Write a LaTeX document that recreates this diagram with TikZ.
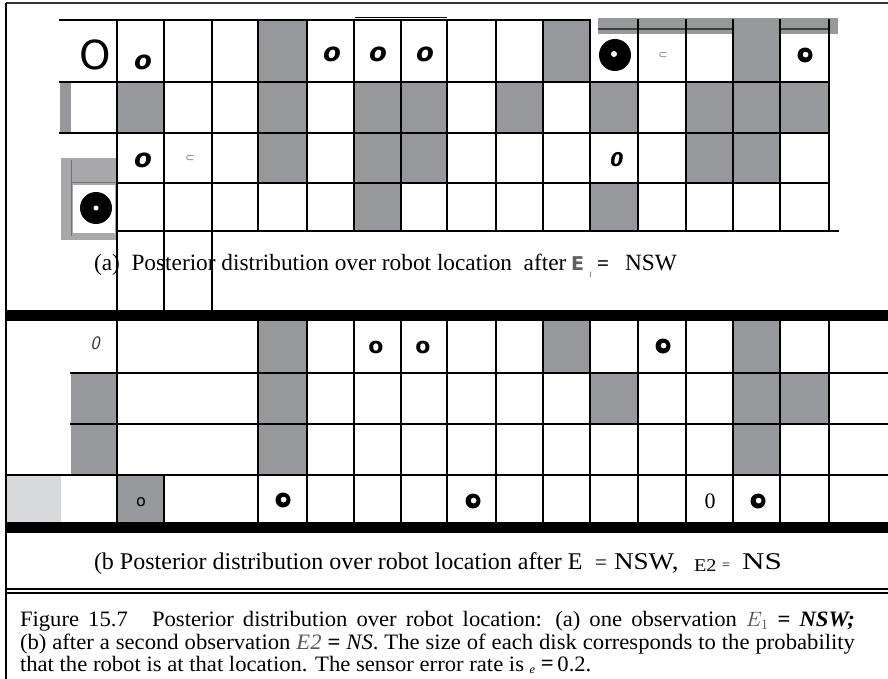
\documentclass[tikz,border=0pt]{standalone}
\usepackage{fontspec}
\usepackage{graphicx}
\setmainfont{Liberation Serif}
\newfontfamily\djs{DejaVu Sans}
\newfontfamily\capfont[FakeStretch=1.03]{Liberation Serif}
\definecolor{cellgray}{RGB}{150,152,156}
\definecolor{lightcell}{RGB}{216,217,219}
\definecolor{photogray}{RGB}{168,168,170}
\definecolor{glyphgray}{RGB}{120,120,120}
\definecolor{egray}{RGB}{95,95,95}
\tikzset{
  gl/.style={line width=1.4pt, line cap=rect},
  gcell/.style={fill=cellgray},
  txt/.style={inner sep=0pt, outer sep=0pt},
  capline/.style={inner sep=0pt, outer sep=0pt, anchor=base west},
  bitalo/.style={txt, font=\djs\bfseries\itshape\fontsize{26}{26}\selectfont},
  boldo/.style={txt, font=\djs\bfseries\fontsize{22}{22}\selectfont},
  smallc/.style={txt, text=glyphgray, font=\djs\fontsize{11}{11}\selectfont},
  subcap/.style={capline, font=\fontsize{23.3}{24}\selectfont},
  subcapb/.style={capline, font=\fontsize{24}{25}\selectfont},
  figcap/.style={capline, font=\capfont\fontsize{22}{23}\selectfont},
}
\newcommand{\ringat}[2]{\fill[black,even odd rule] (#1,#2) circle[radius=7.5] (#1+0.6,#2-0.4) circle[radius=3];}
\begin{document}
\begin{tikzpicture}[x=1pt,y=-1pt]
\useasboundingbox (0,0) rectangle (888,679);
\fill[white] (0,0) rectangle (888,679);

% ---------- panel (a) fills ----------
\fill[gcell] (258,20) rectangle (307,82);
\fill[gcell] (543,20) rectangle (590,82);
\fill[gcell] (733,20) rectangle (780,82);
\fill[gcell] (60,82) rectangle (71,133);
\fill[gcell] (117,82) rectangle (164,133);
\fill[gcell] (258,82) rectangle (307,133);
\fill[gcell] (354,82) rectangle (447,133);
\fill[gcell] (496,82) rectangle (543,133);
\fill[gcell] (590,82) rectangle (638,133);
\fill[gcell] (686,82) rectangle (829,133);
\fill[gcell] (258,133) rectangle (307,183);
\fill[gcell] (354,133) rectangle (447,183);
\fill[gcell] (686,133) rectangle (780,183);
\fill[gcell] (354,183) rectangle (401,231);
\fill[gcell] (590,183) rectangle (638,231);

% top-right scan band
\fill[cellgray] (598,18) rectangle (838,34);
\draw[line width=1.2pt, black!75] (598,29) -- (733,29) (780,29) -- (829,29);
% large disk patch (row 1)
\fill[white] (598,35) rectangle (632,72);
\fill[black] (615,55) circle[radius=16];
\fill[white] (614,54) circle[radius=3];
% photo patch (row 4, left)
\fill[photogray] (61,158) rectangle (117,240);
\draw[line width=1pt, black!55] (71,160) -- (71,236) (71,183) -- (117,183);
\fill[white] (73,185) rectangle (115,233);
\fill[black] (96,208) circle[radius=16];
\fill[white] (96,208) circle[radius=2.5];

% ---------- panel (a) grid lines ----------
\foreach \x in {258,307,354,401,447,496,543,590,638,686,733,780,829}
  \draw[gl] (\x,20) -- (\x,231);
\foreach \x in {117,164,212}
  \draw[gl] (\x,20) -- (\x,310);
\draw[gl] (60,20) -- (590,20);
\draw[gl] (60,82) -- (829,82);
\draw[gl] (60,133) -- (829,133);
\draw[gl] (117,183) -- (829,183);
\draw[gl] (117,231) -- (838,231);
\draw[line width=0.8pt] (355,17) -- (447,17);

% ---------- panel (a) marks ----------
\node[txt, font=\djs\fontsize{40}{40}\selectfont] (aO) at (95,55) {O};
\node[bitalo] (a1) at (143,62) {o};
\node[bitalo] (a2) at (332,54) {o};
\node[bitalo] (a3) at (378,54) {o};
\node[bitalo] (a4) at (425,54) {o};
\node[bitalo] (a5) at (143,160) {o};
\node[txt, font=\djs\bfseries\itshape\fontsize{19}{19}\selectfont] (a6) at (617,160) {0};
\node[smallc] (ac1) at (190,158) {⊂};
\node[smallc] (ac2) at (663,55) {⊂};
\ringat{805}{55}

% ---------- separator bands ----------
\fill[black] (6,310) rectangle (888,321);
\fill[black] (6,522) rectangle (888,533);

% ---------- panel (b) fills ----------
\fill[gcell] (258,321) rectangle (307,373);
\fill[gcell] (543,321) rectangle (590,373);
\fill[gcell] (733,321) rectangle (780,373);
\fill[gcell] (71,373) rectangle (117,475);
\fill[gcell] (258,373) rectangle (307,475);
\fill[gcell] (590,373) rectangle (638,424);
\fill[gcell] (733,373) rectangle (829,424);
\fill[gcell] (733,424) rectangle (780,475);
\fill[gcell] (117,475) rectangle (164,522);
\fill[lightcell] (6,475) rectangle (61,522);

% ---------- panel (b) grid lines ----------
\foreach \x in {117,258,307,354,401,447,496,543,590,638,686,733,780,829}
  \draw[gl] (\x,321) -- (\x,522);
\draw[gl] (164,475) -- (164,522);
\draw[gl] (71,373) -- (888,373);
\draw[gl] (71,424) -- (888,424);
\draw[gl] (6,475) -- (888,475);

% ---------- panel (b) marks ----------
\node[txt, font=\sffamily\itshape\fontsize{19}{19}\selectfont, text=black!80] (b0) at (95,343) {0};
\node[boldo] (b1) at (376,347) {o};
\node[boldo] (b2) at (423,347) {o};
\ringat{663}{346}
\node[txt, font=\djs\fontsize{16}{16}\selectfont] (b3) at (141,502) {o};
\ringat{283}{500}
\ringat{473}{501}
\node[txt, font=\fontsize{22}{22}\selectfont] (b4) at (710,501) {0};
\ringat{758}{501}

% ---------- frame ----------
\draw[line width=1.4pt, black!80] (6,3) -- (888,3);
\draw[line width=2.5pt] (6,3) -- (6,679);
\draw[line width=1.2pt] (6,589) -- (888,589);
\draw[line width=1.2pt] (6,593) -- (888,593);

% ---------- sub-caption (a) ----------
\node[subcap] (sa1) at (94,270) {(a)\ \ Posterior distribution over robot location\ \ after};
\node[capline, text=egray, font=\djs\bfseries\fontsize{19}{19}\selectfont] (saE) at (571,270) {E};
\node[capline, text=glyphgray, font=\djs\fontsize{10}{10}\selectfont] (sa1s) at (589,277) {ı};
\node[capline, font=\bfseries\fontsize{21}{21}\selectfont] (saeq) at (597,270) {=};
\node[subcap] (saN) at (625,270) {NSW};

% ---------- sub-caption (b) ----------
\node[subcapb] (sb1) at (94,569) {(b Posterior distribution over robot location after E};
\node[capline, font=\fontsize{21}{21}\selectfont] (sb2) at (595,569) {=};
\node[subcapb] (sb3) at (614,569) {\scalebox{1.13}[1]{NSW,}};
\node[capline, font=\fontsize{18}{18}\selectfont] (sb4) at (694,571) {\scalebox{1.12}[1]{E2}};
\node[capline, font=\fontsize{14}{14}\selectfont] (sb5) at (722,569) {=};
\node[subcapb] (sb6) at (742,569) {\scalebox{1.3}[1]{NS}};

% ---------- figure caption ----------
\node[figcap] (c1) at (20,626) {\makebox[835pt][s]{Figure 15.7\hspace{1.1em}Posterior distribution over robot location:\hspace{0.6em}(a) one observation \textcolor{black!70}{$E_{1}$} \textbf{=} \textbf{\textit{NSW;}}}};
\node[figcap] (c2) at (20,649) {\makebox[835pt][s]{(b) after a second observation \textcolor{black!65}{\textit{E2}} \textbf{=} \textit{NS}. The size of each disk corresponds to the probability}};
\node[figcap] (c3) at (20,671) {that the robot is at that location. The sensor error rate is \raisebox{-2pt}{\fontsize{12}{12}\selectfont\textit{e}} \raisebox{1pt}{\textbf{=}}\,0.2.};
\end{tikzpicture}
\end{document}
